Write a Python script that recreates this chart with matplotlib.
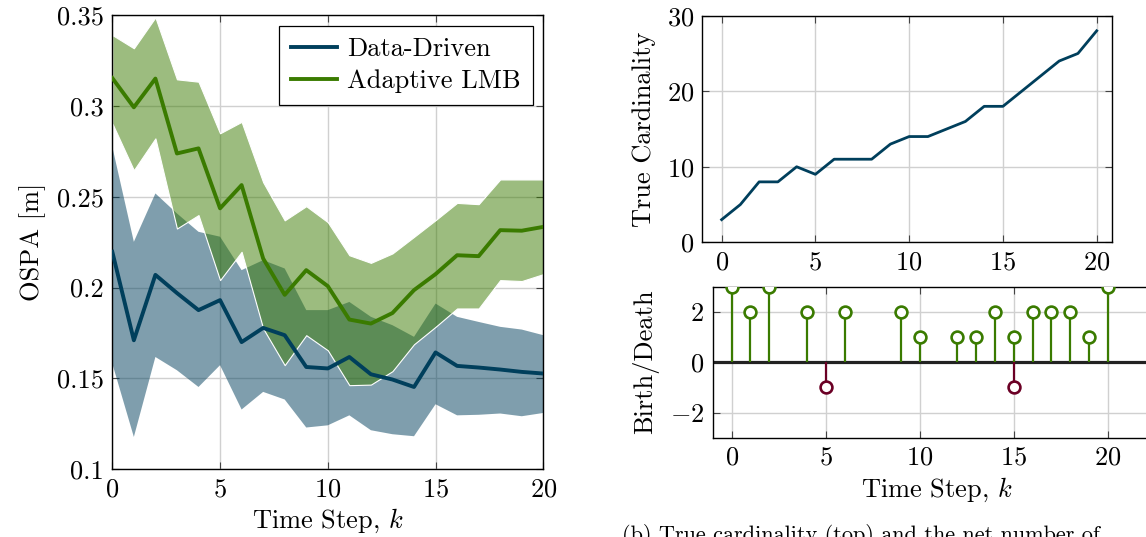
import numpy as np
import matplotlib.pyplot as plt

plt.rcParams['font.family'] = 'serif'
plt.rcParams['font.serif'] = ['cmr10']
plt.rcParams['mathtext.fontset'] = 'cm'
plt.rcParams['axes.formatter.use_mathtext'] = True

# OSPA over time, mean and band limits
time_steps = list(range(21))
dd_mean = [0.2197, 0.171, 0.207, 0.197, 0.1876, 0.1931, 0.170, 0.1778, 0.1738, 0.1563, 0.1555,
           0.1618, 0.1523, 0.1494, 0.1453, 0.1643, 0.1569, 0.156, 0.1549, 0.1536, 0.1527]
dd_upper = [0.2775, 0.2252, 0.2518, 0.2408, 0.2307, 0.228, 0.2096, 0.2151, 0.2105, 0.1876, 0.1876,
            0.1921, 0.1839, 0.1793, 0.1729, 0.1912, 0.1839, 0.1811, 0.1784, 0.1769, 0.1738]
dd_lower = [0.1582, 0.1178, 0.1618, 0.1545, 0.1453, 0.1573, 0.1329, 0.1426, 0.1384, 0.123, 0.1242,
            0.1297, 0.1215, 0.1193, 0.1182, 0.1358, 0.1297, 0.130, 0.1307, 0.1292, 0.131]
lmb_mean = [0.3153, 0.2992, 0.315, 0.2738, 0.2766, 0.2436, 0.2564, 0.216, 0.196, 0.2096, 0.2008,
            0.1824, 0.1802, 0.186, 0.1986, 0.2074, 0.2178, 0.2173, 0.2316, 0.2313, 0.2334]
lmb_upper = [0.339, 0.3317, 0.3487, 0.3146, 0.3133, 0.2849, 0.2912, 0.258, 0.237, 0.2448, 0.236,
             0.2178, 0.2136, 0.2188, 0.2279, 0.2371, 0.2466, 0.2459, 0.2595, 0.2595, 0.2595]
lmb_lower = [0.2904, 0.2646, 0.2821, 0.2325, 0.2399, 0.2041, 0.2197, 0.1775, 0.1573, 0.1738, 0.1655,
             0.1463, 0.1466, 0.154, 0.1688, 0.1784, 0.1885, 0.1885, 0.2041, 0.2036, 0.2074]

# true cardinality and births / deaths per step
cardinality = [3, 5, 8, 8, 10, 9, 11, 11, 11, 13, 14, 14, 15, 16, 18, 18, 20, 22, 24, 25, 28]
birth_steps = [0, 1, 2, 4, 6, 9, 10, 12, 13, 14, 15, 16, 17, 18, 19, 20]
birth_counts = [3, 2, 3, 2, 2, 2, 1, 1, 1, 2, 1, 2, 2, 2, 1, 3]
death_steps = [5, 15]
death_counts = [-1, -1]

ospa_ticks = [0.1, 0.15, 0.2, 0.25, 0.3, 0.35]
ospa_labels = ['0.1', '0.15', '0.2', '0.25', '0.3', '0.35']
bd_ticks = [-2, 0, 2]
bd_labels = ['$-2$', '$0$', '$2$']

blue = '#003f5c'
green = '#3a7b00'
maroon = '#6b0025'
grid_c = '#d0d0d0'
fs = 19


def style_axes(ax):
    ax.set_axisbelow(True)
    ax.grid(True, color=grid_c, linewidth=1.0)
    ax.tick_params(direction='in', length=5, width=0.8, color='#444444',
                   labelsize=fs, top=True, right=True, pad=6)
    for s in ax.spines.values():
        s.set_linewidth(1.0)


W, H = 1146, 537
fig = plt.figure(figsize=(W / 100, H / 100), dpi=100)

# left panel
ax = fig.add_axes([112.3 / W, 1 - 469.3 / H, 431 / W, 454.3 / H])
style_axes(ax)
ax.fill_between(time_steps, dd_lower, dd_upper, facecolor=(0, 0.247, 0.361, 0.5),
                edgecolor='none', zorder=1)
ax.fill_between(time_steps, lmb_lower, lmb_upper, facecolor=(0.227, 0.482, 0.0, 0.5),
                edgecolor='white', linewidth=0.8, zorder=1.1)
ax.plot(time_steps, dd_mean, color=blue, lw=2.8, label='Data-Driven', zorder=3)
ax.plot(time_steps, lmb_mean, color=green, lw=2.8, label='Adaptive LMB', zorder=3)
ax.set_xlim(0, 20)
ax.set_ylim(0.1, 0.35)
ax.set_xticks([0, 5, 10, 15, 20])
ax.set_yticks(ospa_ticks)
ax.set_yticklabels(ospa_labels)
ax.set_xlabel('Time Step, $k$', fontsize=fs, labelpad=4)
ax.set_ylabel('OSPA [m]', fontsize=fs, labelpad=8)
leg = ax.legend(loc='upper right', fontsize=fs, fancybox=False, framealpha=1,
                edgecolor='black', borderaxespad=0.4, handlelength=1.75,
                handletextpad=0.4, borderpad=0.45, labelspacing=0.32)
leg.get_frame().set_linewidth(0.9)

# top right: true cardinality
ax2 = fig.add_axes([702.3 / W, 1 - 242.3 / H, 409.4 / W, 226.6 / H])
style_axes(ax2)
ax2.plot(time_steps, cardinality, color=blue, lw=2.0)
ax2.set_xlim(-1.03, 20.8)
ax2.set_ylim(0, 30)
ax2.set_xticks([0, 5, 10, 15, 20])
ax2.set_yticks([0, 10, 20, 30])
ax2.set_ylabel('True Cardinality', fontsize=fs, labelpad=8)

# bottom right: birth / death stems
ax3 = fig.add_axes([712.7 / W, 1 - 437.7 / H, 447.3 / W, 151 / H])
style_axes(ax3)
ax3.spines['right'].set_visible(False)
ax3.axhline(0, color='#222222', lw=2.3, zorder=2)
for steps, counts, col in [(birth_steps, birth_counts, green), (death_steps, death_counts, maroon)]:
    ml, sl, bl = ax3.stem(steps, counts, basefmt=' ')
    plt.setp(sl, color=col, linewidth=1.6)
    plt.setp(ml, marker='o', markersize=8.5, markerfacecolor='white',
             markeredgecolor=col, markeredgewidth=1.9, zorder=4)
ax3.set_xlim(-1.01, 22.78)
ax3.set_ylim(-3, 3)
ax3.set_xticks([0, 5, 10, 15, 20])
ax3.set_yticks(bd_ticks)
ax3.set_yticklabels(bd_labels)
ax3.set_xlabel('Time Step, $k$', fontsize=fs, labelpad=4)
ax3.set_ylabel('Birth/Death', fontsize=fs, labelpad=8)

fig.text(622 / W, 1 - 524 / H, '(b) True cardinality (top) and the net number of',
         fontsize=16, va='top', ha='left')

fig.savefig('out.png', dpi=100)
